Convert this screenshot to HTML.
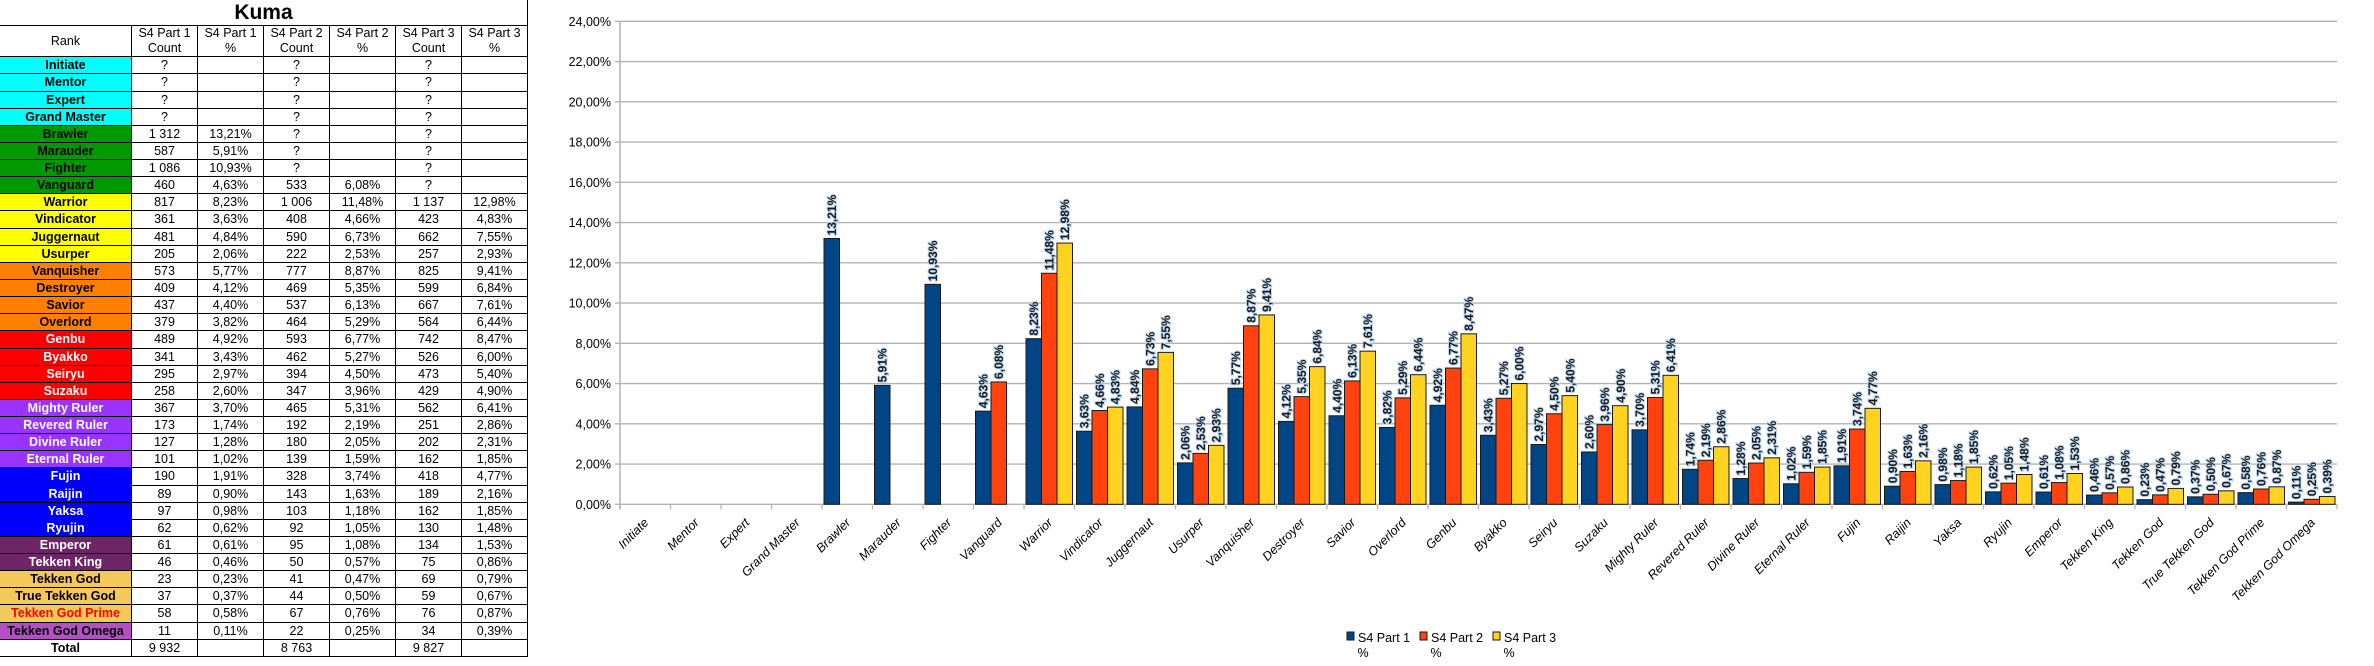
<!DOCTYPE html>
<html><head><meta charset="utf-8"><style>
body{margin:0;width:2374px;height:666px;background:#fff;position:relative;overflow:hidden;font-family:"Liberation Sans",sans-serif}
#tbl{position:absolute;left:0;top:0}
.c{position:absolute;box-sizing:border-box;border-right:1px solid #000;border-bottom:1px solid #000;font-size:12.5px;text-align:center;line-height:17px;height:17px;white-space:nowrap}
.r{font-weight:bold}
</style></head><body>
<div id="tbl">
<div style="position:absolute;left:0;top:0;width:528px;height:26px;border-bottom:1px solid #000;border-right:1px solid #000;box-sizing:border-box;text-align:center;font-weight:bold;font-size:21px;line-height:26px">Kuma</div>
</div>
<svg id="chart" width="2374" height="666" style="position:absolute;left:0;top:0"></svg>
<script>
const cats=["Initiate","Mentor","Expert","Grand Master","Brawler","Marauder","Fighter","Vanguard","Warrior","Vindicator","Juggernaut","Usurper","Vanquisher","Destroyer","Savior","Overlord","Genbu","Byakko","Seiryu","Suzaku","Mighty Ruler","Revered Ruler","Divine Ruler","Eternal Ruler","Fujin","Raijin","Yaksa","Ryujin","Emperor","Tekken King","Tekken God","True Tekken God","Tekken God Prime","Tekken God Omega"];
const s1=[null,null,null,null,13.21,5.91,10.93,4.63,8.23,3.63,4.84,2.06,5.77,4.12,4.40,3.82,4.92,3.43,2.97,2.60,3.70,1.74,1.28,1.02,1.91,0.90,0.98,0.62,0.61,0.46,0.23,0.37,0.58,0.11];
const s2=[null,null,null,null,null,null,null,6.08,11.48,4.66,6.73,2.53,8.87,5.35,6.13,5.29,6.77,5.27,4.50,3.96,5.31,2.19,2.05,1.59,3.74,1.63,1.18,1.05,1.08,0.57,0.47,0.50,0.76,0.25];
const s3=[null,null,null,null,null,null,null,null,12.98,4.83,7.55,2.93,9.41,6.84,7.61,6.44,8.47,6.00,5.40,4.90,6.41,2.86,2.31,1.85,4.77,2.16,1.85,1.48,1.53,0.86,0.79,0.67,0.87,0.39];
const c1=["?","?","?","?","1 312","587","1 086","460","817","361","481","205","573","409","437","379","489","341","295","258","367","173","127","101","190","89","97","62","61","46","23","37","58","11"];
const c2=["?","?","?","?","?","?","?","533","1 006","408","590","222","777","469","537","464","593","462","394","347","465","192","180","139","328","143","103","92","95","50","41","44","67","22"];
const c3=["?","?","?","?","?","?","?","?","1 137","423","662","257","825","599","667","564","742","526","473","429","562","251","202","162","418","189","162","130","134","75","69","59","76","34"];
const totals=["9 932","","8 763","","9 827",""];
const yTicks=[0,2,4,6,8,10,12,14,16,18,20,22,24];
const seriesNames=["S4 Part 1","S4 Part 2","S4 Part 3"];
const rankBg=["#00ffff","#00ffff","#00ffff","#00ffff","#009a00","#009a00","#009a00","#009a00","#ffff00","#ffff00","#ffff00","#ffff00","#ff8000","#ff8000","#ff8000","#ff8000","#ff0000","#ff0000","#ff0000","#ff0000","#9933ff","#9933ff","#9933ff","#9933ff","#0000ff","#0000ff","#0000ff","#0000ff","#6e2568","#6e2568","#f5c85a","#f5c85a","#f5c85a","#b44fc4"];
const rankFg=["#000","#000","#000","#000","#000","#000","#000","#000","#000","#000","#000","#000","#000","#000","#000","#000","#fff","#fff","#fff","#fff","#fff","#fff","#fff","#fff","#fff","#fff","#fff","#fff","#fff","#fff","#000","#000","#ff0000","#000"];
const fmt=v=>v==null?"":v.toFixed(2).replace(".",",")+"%";

const tbl=document.getElementById('tbl');
const colX=[0,132,198,264,330,396,462,528];
const hdr=["Rank","S4 Part 1<br>Count","S4 Part 1<br>%","S4 Part 2<br>Count","S4 Part 2<br>%","S4 Part 3<br>Count","S4 Part 3<br>%"];
function cell(x,y,w,h,html,cls){const d=document.createElement('div');d.className='c '+(cls||'');d.style.left=x+'px';d.style.top=y+'px';d.style.width=w+'px';d.style.height=h+'px';d.innerHTML=html;tbl.appendChild(d);return d;}
for(let i=0;i<7;i++){const d=cell(colX[i],26,colX[i+1]-colX[i],31.3,hdr[i]);d.style.lineHeight=i?'15px':'31px';

}
const rowH=17.13;
for(let r=0;r<34;r++){const y=57.3+r*rowH;
const vals=[cats[r],c1[r],fmt(s1[r]),c2[r],fmt(s2[r]),c3[r],fmt(s3[r])];
for(let i=0;i<7;i++){const d=cell(colX[i],y,colX[i+1]-colX[i],rowH,vals[i],i==0?'r':'');
if(i==0){d.style.background=rankBg[r];d.style.color=rankFg[r];}

}}
{const y=57.3+34*rowH;const vals=["Total"].concat(totals);
for(let i=0;i<7;i++){const d=cell(colX[i],y,colX[i+1]-colX[i],rowH,vals[i],i==0?'r':'');

}}

const svg=document.getElementById('chart');const NS='http://www.w3.org/2000/svg';
function el(t,a,p){const e=document.createElementNS(NS,t);for(const k in a)e.setAttribute(k,a[k]);(p||svg).appendChild(e);return e;}
const X0=620,catW=50.5,Y0=504.3,YT=21.3,YMAX=24;
const y=v=>Y0-(v/YMAX)*(Y0-YT);
const x=i=>X0+i*catW;
const X1=x(cats.length);
yTicks.forEach(t=>{const g=el('line',{x1:X0-5,x2:X1,y1:y(t),y2:y(t),stroke:'#b3b3b3','stroke-width':1.3});


const tx=el('text',{x:X0-9,y:y(t)+4.5,'text-anchor':'end','font-size':12.5,fill:'#000'});tx.textContent=t.toFixed(2).replace('.',',')+'%';

});
el('line',{x1:X0,x2:X0,y1:YT,y2:Y0+5,stroke:'#b3b3b3','stroke-width':1.5});
for(let i=0;i<=cats.length;i++){el('line',{x1:x(i),x2:x(i),y1:Y0,y2:Y0+5,stroke:'#b3b3b3','stroke-width':1.3});}
const colors=["#004586","#ff420e","#ffd320"];
const series=[s1,s2,s3];const bw=15.5;
series.forEach((s,si)=>{s.forEach((v,i)=>{if(v==null)return;
const bx=x(i)+2+si*bw;
const b=el('rect',{x:bx,y:y(v),width:bw,height:Y0-y(v),fill:colors[si],stroke:'#1a1a1a','stroke-width':1});


const lx=bx+bw/2+4.5,ly=y(v)-3;
const t=el('text',{x:lx,y:ly,transform:`rotate(-90 ${lx} ${ly})`,'font-size':12,'font-weight':'bold',fill:'#1a1a1a',stroke:'#bcd8f2','stroke-width':2,'paint-order':'stroke'});t.textContent=fmt(v);

});});
cats.forEach((c,i)=>{const cx=x(i)+catW/2+4,cy=Y0+19;
const t=el('text',{x:cx,y:cy,transform:`rotate(-45 ${cx} ${cy})`,'text-anchor':'end','font-size':12.5,'font-style':'italic',fill:'#000'});t.textContent=c;

});
const lg=el('g',{});


seriesNames.forEach((n,si)=>{const lx=1347+si*73;
const r=el('rect',{x:lx,y:632,width:7,height:8,fill:colors[si],stroke:'#1a1a1a','stroke-width':1},lg);


const t=el('text',{x:lx+11,y:642,'font-size':12.5,fill:'#000'},lg);t.textContent=n;


const p=el('text',{x:lx+16,y:657,'font-size':12.5,'text-anchor':'middle',fill:'#000'},lg);p.textContent='%';

});
</script>
</body></html>
